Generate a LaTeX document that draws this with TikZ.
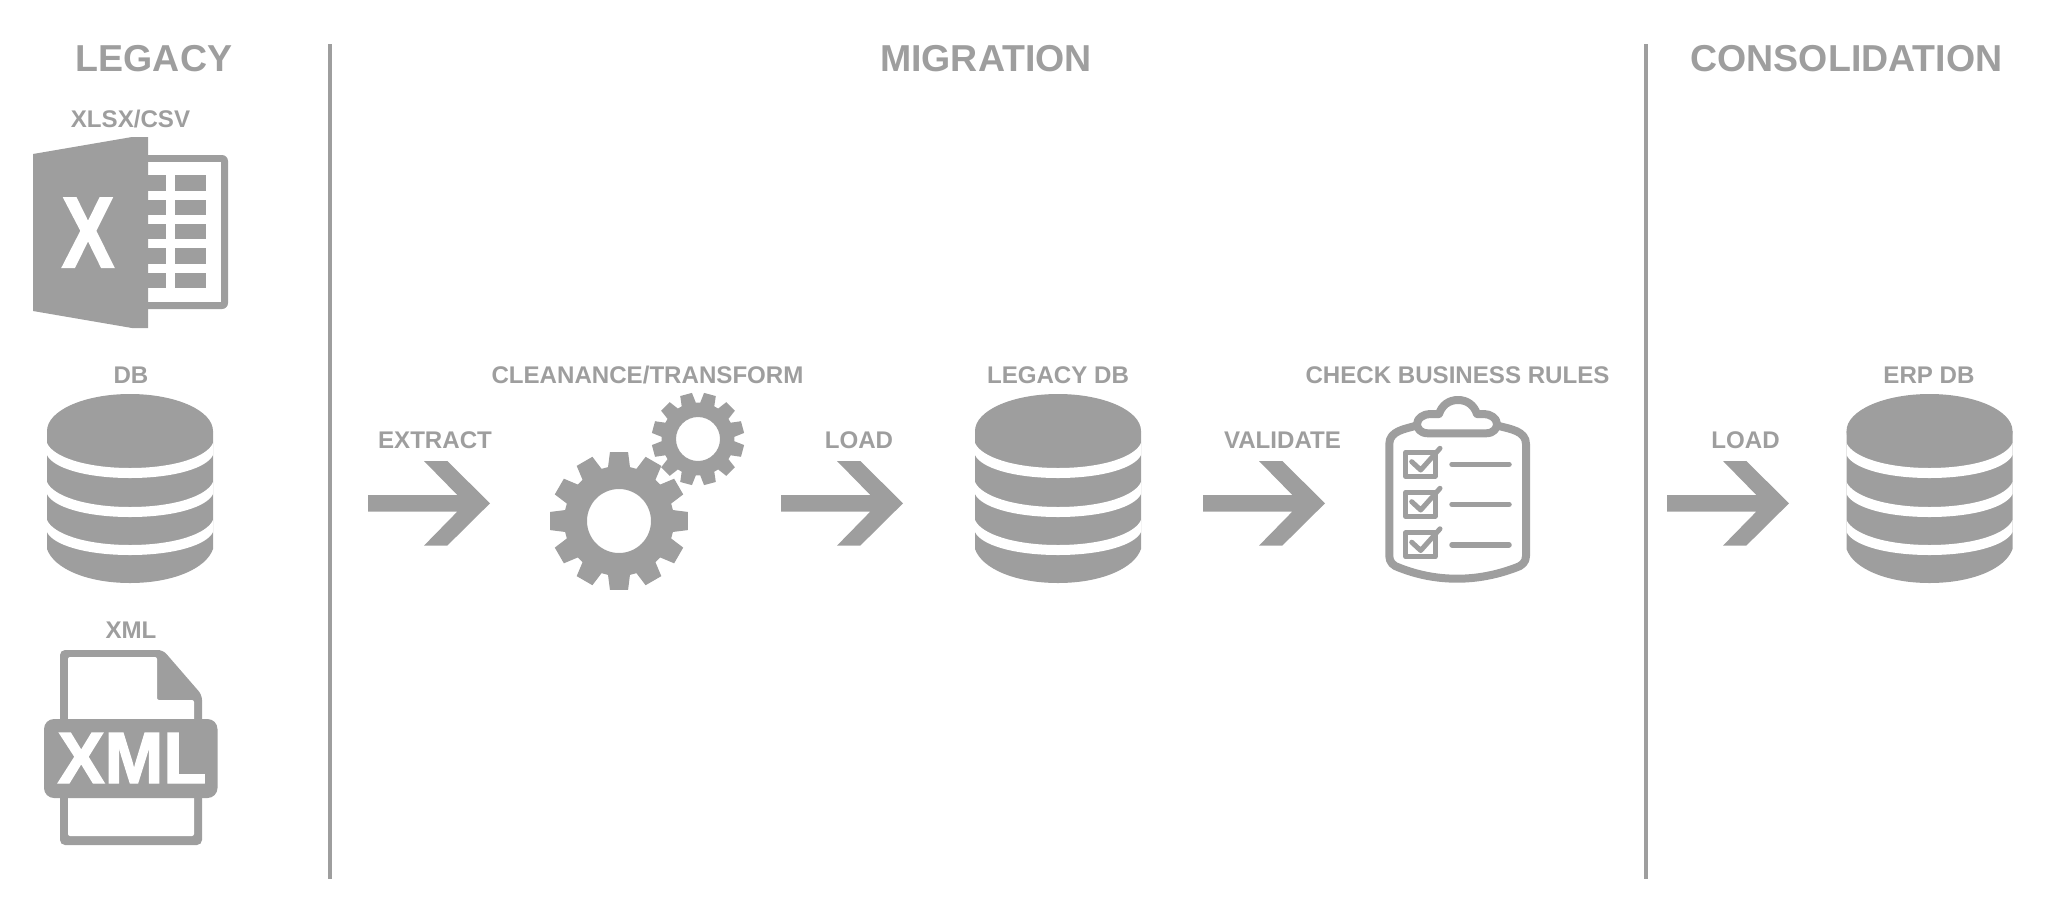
\documentclass[tikz,border=0pt]{standalone}
\usepackage{fontspec}
\setmainfont{Liberation Sans}
\usepackage{xcolor}
\definecolor{icongray}{HTML}{9E9E9E}
\tikzset{
  heading/.style={anchor=base,inner sep=0,text=icongray,font=\fontsize{37.5}{37.5}\selectfont\bfseries},
  caption/.style={anchor=base,inner sep=0,text=icongray,font=\fontsize{24.1}{24.1}\selectfont\bfseries},
  divider/.style={icongray,line width=4pt},
  outline/.style={icongray,line width=8pt,line join=round},
  thin outline/.style={icongray,line width=5pt,line join=round},
  flow/.pic={
    \fill[icongray] (-122,-8.3) -- (-32.7,-8.3) -- (-66,-42.3) -- (-42.7,-42.3) -- (0,0)
      -- (-42.7,42.3) -- (-66,42.3) -- (-32.7,8.3) -- (-122,8.3) -- cycle;
  },
  dbstack/.pic={
    \fill[icongray] (0,0) ellipse [x radius=83pt,y radius=37pt];
    \fill[icongray] (-83,0) -- (-83,118) .. controls (-76,138) and (-42,152) .. (0,152)
      .. controls (42,152) and (76,138) .. (83,118) -- (83,0) -- cycle;
    \foreach \dy in {0,39,77}
      \fill[white] (-83,12+\dy) .. controls (-77,26+\dy) and (-44,37+\dy) .. (0,37+\dy)
        .. controls (44,37+\dy) and (77,26+\dy) .. (83,12+\dy) -- (83,24+\dy)
        .. controls (77,37+\dy) and (44,47+\dy) .. (0,47+\dy)
        .. controls (-44,47+\dy) and (-77,37+\dy) .. (-83,24+\dy) -- cycle;
  },
}
% one gear: #1 centre, #2 outer radius, #3 root radius, #4 hole radius, #5 turn
\newcommand{\gearwheel}[5]{
  \begin{scope}[shift={(#1)}]
    \fill[icongray,even odd rule] (#5-11.5:#3)
      \foreach \a in {0,30,...,330} {
        -- (#5+\a-11.5:#3) -- (#5+\a-7.5:#2) -- (#5+\a+7.5:#2) -- (#5+\a+11.5:#3)
      } -- cycle (0,0) circle [radius=#4pt];
  \end{scope}
}
\begin{document}
\begin{tikzpicture}[x=1pt,y=-1pt]
  \useasboundingbox (0,0) rectangle (2056,906);

  % headings
  \node[heading] (legacy) at (154,71) {LEGACY};
  \node[heading] (migration) at (986,71) {MIGRATION};
  \node[heading] (consolidation) at (1846.5,71) {CONSOLIDATION};

  \coordinate (d1a) at (330,44);
  \coordinate (d1b) at (330,879);
  \coordinate (d2a) at (1646,44);
  \coordinate (d2b) at (1646,879);
  \draw[divider] (d1a) -- (d1b);
  \draw[divider] (d2a) -- (d2b);

  % captions
  \node[caption] (xlsx) at (130.5,127) {XLSX/CSV};
  \node[caption] (db) at (131,383) {DB};
  \node[caption] (xml) at (131,638) {XML};
  \node[caption] (extract) at (435,448) {EXTRACT};
  \node[caption] (cleanance) at (647.5,383) {CLEANANCE/TRANSFORM};
  \node[caption] (load1) at (859,448) {LOAD};
  \node[caption] (legacydb) at (1058,383) {LEGACY DB};
  \node[caption] (validate) at (1282.5,448) {VALIDATE};
  \node[caption] (checkrules) at (1457.5,383) {CHECK BUSINESS RULES};
  \node[caption] (load2) at (1745.5,448) {LOAD};
  \node[caption] (erpdb) at (1929,383) {ERP DB};

  % spreadsheet
  \fill[icongray,rounded corners=6pt] (140,155) rectangle (228,309);
  \fill[white] (148,162) rectangle (221,302);
  \foreach \top/\bot in {175/191,200/215,224/239,248/264,273/288} {
    \fill[icongray] (148,\top) rectangle (166,\bot);
    \fill[icongray] (175,\top) rectangle (206,\bot);
  }
  \fill[icongray] (33,154) -- (132,137) -- (148,137) -- (148,328) -- (132,328) -- (33,311) -- cycle;
  \node[anchor=base,inner sep=0,text=white,font=\fontsize{100}{100}\selectfont\bfseries\addfontfeature{FakeBold=2},xscale=.78] (xlsxmark) at (88,267) {X};

  % xml file
  \fill[icongray,rounded corners=5pt] (60,650) -- (163,650) -- (202,695) -- (202,845) -- (60,845) -- cycle;
  \fill[white,rounded corners=2pt] (68,657) -- (157,657) -- (157,700) -- (194,700) -- (194,836) -- (68,836) -- cycle;
  \fill[icongray,rounded corners=10pt] (44,719) rectangle (217.5,798);
  \node[anchor=base,inner sep=0,text=white,font=\fontsize{72.6}{72.6}\selectfont\bfseries\addfontfeature{FakeBold=2},xscale=.97] (xmlmark) at (132,783) {XML};

  % databases
  \foreach \cx in {130,1058,1929.5}
    \pic at (\cx,431) {dbstack};

  % arrows
  \foreach \tipx in {490,903,1325,1789}
    \pic at (\tipx,503.3) {flow};

  % gears
  \gearwheel{619,521}{69.5}{55}{32}{0}
  \gearwheel{698,439}{46.5}{36.5}{22}{15}

  % clipboard
  \draw[outline] (1415,426) .. controls (1405,429) and (1389.3,431) .. (1389.3,444) -- (1389.3,556)
    .. controls (1389.3,562) and (1393,566) .. (1400,568) .. controls (1418,575) and (1437,578.7) .. (1457,578.7)
    .. controls (1477,578.7) and (1496,575) .. (1515,568) .. controls (1522,566) and (1526,562) .. (1526,556)
    -- (1526,444) .. controls (1526,431) and (1510,429) .. (1499,426);
  \draw[outline,fill=white] (1428,433.3) -- (1486,433.3) .. controls (1494,433.3) and (1497,428) .. (1497,424)
    .. controls (1497,418) and (1490,414) .. (1484,414) -- (1477,414)
    .. controls (1474,405) and (1467,400) .. (1458,400) .. controls (1449,400) and (1442,405) .. (1439,414)
    -- (1430,414) .. controls (1424,414) and (1417,418) .. (1417,424)
    .. controls (1417,428) and (1420,433.3) .. (1428,433.3) -- cycle;
  \foreach \dy in {0,40,80.5} {
    \draw[thin outline] (1405.7,452.3+\dy) rectangle (1435,476.3+\dy);
    \draw[thin outline,line cap=round] (1411.7,461.7+\dy) -- (1420.7,470+\dy) -- (1440,448.3+\dy);
    \draw[thin outline,line width=5.5pt,line cap=round] (1452,464.3+\dy) -- (1509,464.3+\dy);
  }
\end{tikzpicture}
\end{document}
